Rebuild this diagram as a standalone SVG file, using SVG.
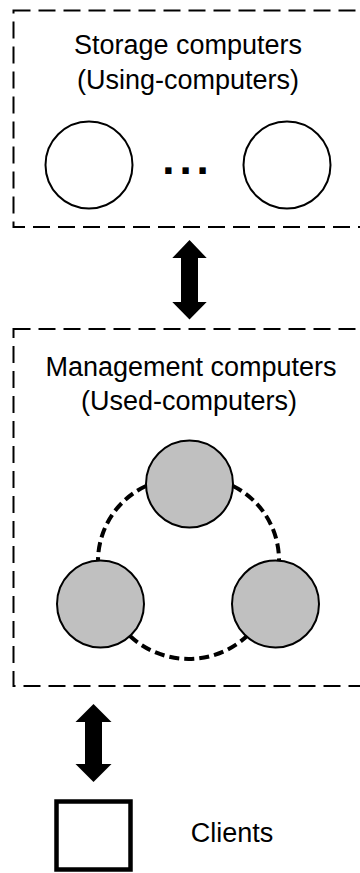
<svg xmlns="http://www.w3.org/2000/svg" width="360" height="873" viewBox="0 0 360 873">
  <style>
    .group-box { fill: none; stroke: #000; stroke-width: 2; stroke-dasharray: 17 8; }
    .label { font-family: "Liberation Sans", Arial, sans-serif; font-size: 27px; fill: #000; text-anchor: middle; }
    .storage { fill: #fff; stroke: #000; stroke-width: 2; }
    .mgmt { fill: #c0c0c0; stroke: #000; stroke-width: 2; }
    .ring { fill: none; stroke: #000; stroke-width: 4; stroke-dasharray: 10 5; }
    .bi-arrow { fill: #000; }
  </style>

  <rect width="360" height="873" fill="#fff"/>

  <!-- Storage tier -->
  <g id="storage-group">
    <rect class="group-box" x="13.5" y="10.5" width="360" height="216.5"/>
    <text class="label" x="188" y="54">Storage computers</text>
    <text class="label" x="188" y="89">(Using-computers)</text>
  </g>
  <g id="storage-1"><circle class="storage" cx="89" cy="165" r="43.5"/></g>
  <g id="storage-ellipsis">
    <text x="188" y="174" font-family="Liberation Sans, Arial, sans-serif" font-size="44" font-weight="bold" letter-spacing="5" text-anchor="middle">...</text>
  </g>
  <g id="storage-2"><circle class="storage" cx="287" cy="165" r="43.5"/></g>

  <!-- Management tier -->
  <g id="management-group">
    <rect class="group-box" x="13.5" y="329" width="360" height="357"/>
    <text class="label" x="191" y="376">Management computers</text>
    <text class="label" x="189" y="410">(Used-computers)</text>
  </g>

  <!-- Connectors -->
  <g id="connectors">
    <!-- dashed ring between management nodes -->
    <path class="ring" d="M146,486 A83,83 0 0 0 98,561"/>
    <path class="ring" d="M233,486 A83,83 0 0 1 279,561"/>
    <path class="ring" d="M130,636 A86,86 0 0 0 247,636"/>
    <!-- storage <-> management -->
    <polygon class="bi-arrow" points="189.5,240 172.3,258 181,258 181,302 172.3,302 189.5,319.5 206.7,302 198,302 198,258 206.7,258"/>
    <!-- management <-> clients -->
    <polygon class="bi-arrow" points="93.5,704 75.5,722 85,722 85,764 75.5,764 93.5,782 111.5,764 102,764 102,722 111.5,722"/>
  </g>

  <g id="mgmt-top"><circle class="mgmt" cx="189.5" cy="484" r="43.5"/></g>
  <g id="mgmt-left"><circle class="mgmt" cx="100.5" cy="604" r="43.5"/></g>
  <g id="mgmt-right"><circle class="mgmt" cx="275.5" cy="604" r="43.5"/></g>

  <!-- Clients -->
  <g id="clients">
    <rect x="56.5" y="801.5" width="74" height="68" fill="#fff" stroke="#000" stroke-width="4.5"/>
    <text class="label" x="232" y="842">Clients</text>
  </g>
</svg>
